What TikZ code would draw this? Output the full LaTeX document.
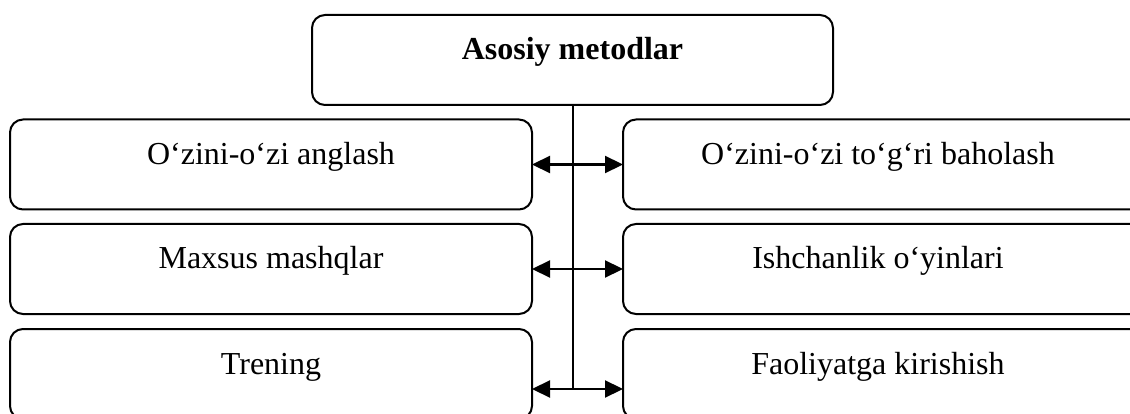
\documentclass[tikz,border=0pt]{standalone}
\usepackage{fontspec}
\setmainfont{Liberation Serif}
\usetikzlibrary{arrows.meta}
\begin{document}
\begin{tikzpicture}[x=1pt,y=-1pt,
  box/.style={draw, line width=2pt, rounded corners=13pt, inner sep=0pt, outer sep=0pt,
    minimum height=90pt, text height=22pt, text depth=22pt,
    font=\fontsize{32}{38}\selectfont},
  lbox/.style={box, minimum width=522pt},
  rbox/.style={box, minimum width=530pt},
  conn/.style={line width=2pt},
  biarrow/.style={line width=2.2pt, {Triangle[length=18pt,width=17pt]}-{Triangle[length=18pt,width=17pt]}}]
\useasboundingbox (0,0) rectangle (1130,414);
\clip (0,0) rectangle (1130,414);
\node[box, minimum width=521pt, font=\fontsize{32}{38}\selectfont\bfseries] (top) at (572.5,60) {Asosiy metodlar};
\node[lbox] (l1) at (271,164.5) {O‘zini-o‘zi anglash};
\node[rbox] (r1) at (888,164.5) {\hspace*{-20pt}O‘zini-o‘zi to‘g‘ri baholash};
\node[lbox] (l2) at (271,269) {Maxsus mashqlar};
\node[rbox] (r2) at (888,269) {\hspace*{-20pt}Ishchanlik o‘yinlari};
\node[lbox] (l3) at (271,374) {Trening};
\node[rbox] (r3) at (888,374) {\hspace*{-20pt}Faoliyatga kirishish};
\coordinate (vend) at (572.5,389);
\draw[conn] (top.south) -- (vend);
\draw[biarrow] (l1.east) -- (r1.west);
\draw[biarrow] (l2.east) -- (r2.west);
\draw[biarrow] ([yshift=-15pt]l3.east) -- ([yshift=-15pt]r3.west);
\end{tikzpicture}
\end{document}
